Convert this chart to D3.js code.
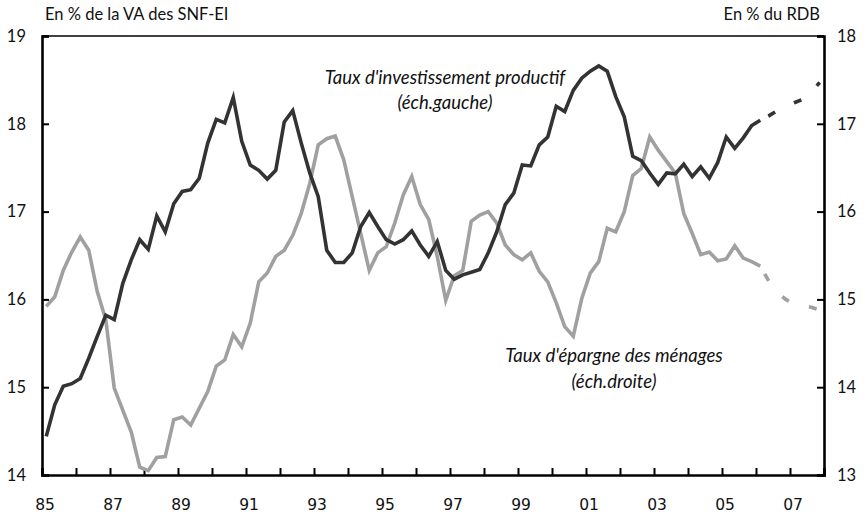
<!DOCTYPE html>
<html>
<head>
<meta charset="utf-8">
<script src="https://cdn.jsdelivr.net/npm/d3@7"></script>
<style>
  body { margin: 0; background: #fff; }
  svg text { font-family: Lato, "Open Sans", sans-serif; fill: #111; }
</style>
</head>
<body>
<div id="chart"></div>
<script>
// quarterly values, starting 1985 Q1
var startYear = 1985;
var investActual = [
  14.44, 14.80, 15.01, 15.04,  15.10, 15.33, 15.58, 15.82,
  15.77, 16.18, 16.45, 16.68,  16.57, 16.95, 16.77, 17.09,
  17.23, 17.25, 17.38, 17.78,  18.05, 18.01, 18.30, 17.80,
  17.53, 17.47, 17.37, 17.47,  18.02, 18.15, 17.78, 17.44,
  17.17, 16.56, 16.42, 16.42,  16.53, 16.83, 16.99, 16.83,
  16.68, 16.63, 16.68, 16.78,  16.62, 16.49, 16.66, 16.33,
  16.23, 16.28, 16.31, 16.34,  16.53, 16.77, 17.08, 17.21,
  17.53, 17.52, 17.76, 17.85,  18.20, 18.14, 18.38, 18.52,
  18.60, 18.66, 18.60, 18.31,  18.08, 17.63, 17.58, 17.44,
  17.31, 17.44, 17.43, 17.54,  17.40, 17.51, 17.38, 17.56,
  17.85, 17.72, 17.84, 17.98,  18.04
];
var epargneActual = [
  14.92, 15.03, 15.33, 15.54,  15.71, 15.56, 15.09, 14.77,
  13.99, 13.74, 13.49, 13.09,  13.05, 13.20, 13.21, 13.63,
  13.66, 13.57, 13.76, 13.95,  14.24, 14.31, 14.60, 14.46,
  14.73, 15.20, 15.30, 15.49,  15.56, 15.73, 15.98, 16.32,
  16.76, 16.83, 16.86, 16.59,  16.17, 15.75, 15.33, 15.53,
  15.60, 15.87, 16.19, 16.40,  16.08, 15.91, 15.49, 14.99,
  15.27, 15.33, 15.89, 15.96,  16.00, 15.87, 15.62, 15.51,
  15.45, 15.53, 15.32, 15.20,  14.96, 14.69, 14.58, 15.01,
  15.30, 15.43, 15.81, 15.77,  16.00, 16.41, 16.49, 16.85,
  16.70, 16.57, 16.44, 15.98,  15.75, 15.51, 15.54, 15.44,
  15.46, 15.61, 15.47, 15.43,  15.38
];
// forecasts, 2006 Q1 to 2007 Q4
var investForecast = [18.04, 18.09, 18.15, 18.20, 18.24, 18.28, 18.37, 18.47];
var epargneForecast = [15.38, 15.21, 15.08, 15.00, 14.95, 14.93, 14.91, 14.88];
var forecastStart = 84; // index of 2006 Q1

var leftTicks = [14, 15, 16, 17, 18, 19];
var rightTicks = [13, 14, 15, 16, 17, 18];
var xLabels = ["85", "87", "89", "91", "93", "95", "97", "99", "01", "03", "05", "07"];

var svgWidth = 866;
var svgHeight = 514;
var margin = { top: 36, right: 42, bottom: 39, left: 42 };
var chartWidth = svgWidth - margin.left - margin.right;
var chartHeight = svgHeight - margin.top - margin.bottom;

var svg = d3.select("#chart")
  .append("svg")
  .attr("width", svgWidth)
  .attr("height", svgHeight);

var chartGroup = svg.append("g")
  .attr("transform", `translate(${margin.left}, ${margin.top})`);

var xScale = d3.scaleLinear().domain([1985, 2008]).range([0, chartWidth]);
var yLeft = d3.scaleLinear().domain([14, 19]).range([chartHeight, 0]);
var yRight = d3.scaleLinear().domain([13, 18]).range([chartHeight, 0]);

// quarter midpoint
function qTime(i) { return startYear + i / 4 + 0.125; }

// axes
var bottomAxis = d3.axisBottom(xScale)
  .tickValues(d3.range(1985, 2009))
  .tickSize(-7)
  .tickFormat("");
var leftAxis = d3.axisLeft(yLeft).tickValues(leftTicks).tickSize(-7).tickFormat("");
var rightAxis = d3.axisRight(yRight).tickValues(rightTicks).tickSize(-7).tickFormat("");

[[bottomAxis, `translate(0, ${chartHeight})`], [leftAxis, null], [rightAxis, `translate(${chartWidth}, 0)`]]
  .forEach(function(a) {
    var g = chartGroup.append("g").call(a[0]);
    if (a[1]) g.attr("transform", a[1]);
    g.select(".domain").attr("stroke", "#000").attr("stroke-width", 2.6);
    g.selectAll(".tick line").attr("stroke", "#000").attr("stroke-width", 2);
  });

// top frame line
chartGroup.append("line")
  .attr("x1", 0).attr("x2", chartWidth)
  .attr("y1", 0).attr("y2", 0)
  .attr("stroke", "#000")
  .attr("stroke-width", 1.5);

// tick labels
chartGroup.selectAll(".ylab-left")
  .data(leftTicks)
  .enter()
  .append("text")
  .attr("x", -16)
  .attr("y", d => yLeft(d))
  .attr("dy", "0.35em")
  .attr("text-anchor", "end")
  .style("font-size", "16.5px")
  .text(d => d);

chartGroup.selectAll(".ylab-right")
  .data(rightTicks)
  .enter()
  .append("text")
  .attr("x", chartWidth + 13)
  .attr("y", d => yRight(d))
  .attr("dy", "0.35em")
  .attr("text-anchor", "start")
  .style("font-size", "16.5px")
  .text(d => d);

chartGroup.selectAll(".xlab")
  .data(xLabels)
  .enter()
  .append("text")
  .attr("x", (d, i) => xScale(1985 + 2 * i) + 3)
  .attr("y", chartHeight + 30)
  .attr("dy", "0.35em")
  .attr("text-anchor", "middle")
  .style("font-family", "'DejaVu Sans', sans-serif")
  .style("font-size", "15.5px")
  .text(d => d);

// axis titles
svg.append("text")
  .attr("x", 45).attr("y", 20)
  .style("font-size", "16.5px")
  .text("En % de la VA des SNF-EI");
svg.append("text")
  .attr("x", 820).attr("y", 20)
  .attr("text-anchor", "end")
  .style("font-size", "16.5px")
  .text("En % du RDB");

// lines
var lineLeft = d3.line().x(d => xScale(d.t)).y(d => yLeft(d.v));
var lineRight = d3.line().x(d => xScale(d.t)).y(d => yRight(d.v));

function toPoints(values, offset) {
  return values.map((v, i) => ({ t: qTime(i + offset), v: v }));
}

chartGroup.append("path")
  .datum(toPoints(epargneActual, 0))
  .attr("d", lineRight)
  .attr("fill", "none")
  .attr("stroke", "#a0a0a0")
  .attr("stroke-width", 3.6);

chartGroup.append("path")
  .datum(toPoints(epargneForecast, forecastStart))
  .attr("d", lineRight)
  .attr("fill", "none")
  .attr("stroke", "#a0a0a0")
  .attr("stroke-width", 3.6)
  .attr("stroke-dasharray", "0,9,8,12");

chartGroup.append("path")
  .datum(toPoints(investActual, 0))
  .attr("d", lineLeft)
  .attr("fill", "none")
  .attr("stroke", "#333")
  .attr("stroke-width", 3.6);

chartGroup.append("path")
  .datum(toPoints(investForecast, forecastStart))
  .attr("d", lineLeft)
  .attr("fill", "none")
  .attr("stroke", "#333")
  .attr("stroke-width", 3.6)
  .attr("stroke-dasharray", "0,9,8,12");

// annotations
var noteSize = "18.5px";
svg.append("text")
  .attr("x", 445).attr("y", 84)
  .attr("text-anchor", "middle")
  .style("font-style", "italic")
  .style("font-size", noteSize)
  .text("Taux d'investissement productif");
svg.append("text")
  .attr("x", 445).attr("y", 109)
  .attr("text-anchor", "middle")
  .style("font-style", "italic")
  .style("font-size", noteSize)
  .text("(éch.gauche)");

svg.append("text")
  .attr("x", 614).attr("y", 362)
  .attr("text-anchor", "middle")
  .style("font-style", "italic")
  .style("font-size", noteSize)
  .text("Taux d'épargne des ménages");
svg.append("text")
  .attr("x", 614).attr("y", 388)
  .attr("text-anchor", "middle")
  .style("font-style", "italic")
  .style("font-size", noteSize)
  .text("(éch.droite)");
</script>
</body>
</html>
